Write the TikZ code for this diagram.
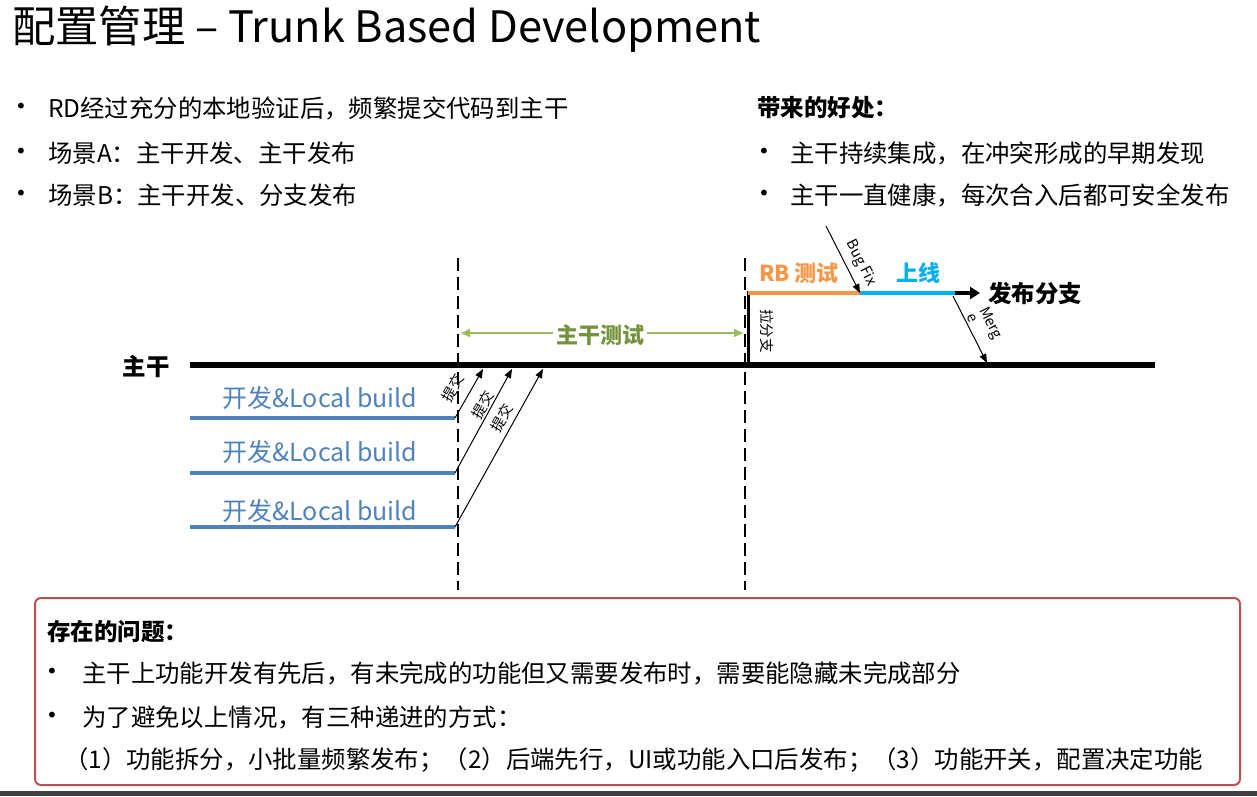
\documentclass[tikz,border=0pt]{standalone}
\usepackage{fontspec}
\setmainfont{Noto Sans CJK SC}
\newfontfamily\dotfont{DejaVu Sans}
\usetikzlibrary{positioning}
\usetikzlibrary{arrows.meta}

\definecolor{devblue}{RGB}{79,129,189}
\definecolor{testgreen}{RGB}{155,187,89}
\definecolor{testgreentxt}{RGB}{118,146,60}
\definecolor{rborange}{RGB}{247,150,70}
\definecolor{liveblue}{RGB}{0,176,240}
\definecolor{boxred}{RGB}{192,80,77}
\definecolor{footgray}{RGB}{64,64,64}

\tikzset{
  body/.style={anchor=west, inner sep=0pt, font=\fontsize{24.4}{28}\selectfont},
  boldbody/.style={body, font=\fontsize{23.5}{28}\selectfont\bfseries},
  dot/.style={anchor=west, inner sep=0pt, font=\dotfont\fontsize{20}{22}\selectfont},
  trunkline/.style={line width=6pt},
  devline/.style={devblue, line width=4pt},
  devlabel/.style={devblue, inner sep=0pt, font=\fontsize{25}{28}\selectfont},
  cutline/.style={line width=2.5pt, dash pattern=on 13pt off 6pt},
  commit/.style={-{Triangle[length=9pt,width=7pt]}, line width=1pt},
  tilted/.style={inner sep=0pt, font=\fontsize{14.5}{15}\selectfont},
}

\begin{document}
\begin{tikzpicture}[x=1pt,y=-1pt]
  \useasboundingbox (0,0) rectangle (1257,796);
  %% title and bullet lists
  \node[body, font=\fontsize{43.3}{48}\selectfont] (title) at (12,29) {配置管理 – Trunk Based Development};
  \node[dot] (b1) at (15,108) {•};
  \node[body] (t1) at (48,108) {RD经过充分的本地验证后，频繁提交代码到主干};
  \node[dot] (b2) at (15,153) {•};
  \node[body] (t2) at (48,153) {场景A：主干开发、主干发布};
  \node[dot] (b3) at (15,195) {•};
  \node[body] (t3) at (48,195) {场景B：主干开发、分支发布};
  \node[boldbody] (gain) at (757,108) {带来的好处：};
  \node[dot] (b4) at (758,153) {•};
  \node[body] (t4) at (790,153) {主干持续集成，在冲突形成的早期发现};
  \node[dot] (b5) at (758,195) {•};
  \node[body] (t5) at (790,195) {主干一直健康，每次合入后都可安全发布};

  %% trunk and the two cut lines
  \coordinate (tl) at (190,365);
  \coordinate (tr) at (1155,365);
  \draw[trunkline] (tl) -- (tr);
  \node[boldbody, anchor=east] (trunk) at (170,367) {主干};
  \coordinate (d1t) at (458,258);
  \coordinate (d1b) at (458,590);
  \coordinate (d2t) at (745,258);
  \coordinate (d2b) at (745,590);
  \draw[cutline] (d1t) -- (d1b);
  \draw[cutline] (d2t) -- (d2b);
  \coordinate (gl) at (461,333);
  \coordinate (gr) at (743,333);
  \draw[testgreen, line width=2pt, {Triangle[length=9pt,width=8pt]}-{Triangle[length=9pt,width=8pt]}] (gl) -- (gr);
  \node[fill=white, inner sep=3pt, text=testgreentxt, font=\fontsize{22}{26}\selectfont\bfseries] (ttest) at (600,335) {主干测试};

  %% release branch
  \coordinate (br0) at (748,368);
  \coordinate (br1) at (748,291);
  \coordinate (bf) at (860,293);
  \coordinate (rel) at (955,293);
  \coordinate (arr) at (980,293);
  \draw[line width=3pt] (br0) -- (br1);
  \draw[rborange, line width=4.5pt] (br1 |- bf) -- (bf);
  \draw[liveblue, line width=4.5pt] (bf) -- (rel);
  \draw[line width=3.5pt, -{Triangle[length=10pt,width=12pt]}] (rel) -- (arr);
  \node[boldbody, right=8pt of arr] (relb) {发布分支};
  \node[text=rborange, inner sep=0pt, font=\fontsize{22}{26}\selectfont\bfseries] (rbt) at (799,273) {RB 测试};
  \node[text=liveblue, inner sep=0pt, font=\fontsize{22}{26}\selectfont\bfseries] (live) at (918,273) {上线};
  \node[tilted, rotate=-90] (pull) at (767,331) {拉分支};
  \coordinate (bfs) at (826,226);
  \draw[commit] (bfs) -- (bf);
  \node[tilted, rotate=-63] (bugfix) at (861,263) {Bug Fix};
  \coordinate (mst) at (953,296);
  \coordinate (mrg) at (987,363);
  \draw[commit] (mst) -- (mrg);
  \node[tilted, rotate=-63, align=left] (merge) at (985,326) {Merg\\e};

  %% local development and commits
  \foreach \i/\y/\ly/\ex/\tx/\ty in {1/418/398/483/453/388, 2/473/452/512/483/405, 3/527/511/543/502/418} {
    \coordinate (dv\i a) at (190,\y);
    \coordinate (dv\i b) at (455,\y);
    \coordinate (cm\i) at (\ex,369);
    \draw[devline] (dv\i a) -- (dv\i b);
    \node[devlabel] (dl\i) at (320,\ly) {开发\&Local build};
    \draw[commit] (dv\i b) -- (cm\i);
    \node[tilted, rotate=60] (ct\i) at (\tx,\ty) {提交};
  }

  %% problems box
  \draw[boxred, line width=2pt, rounded corners=6pt] (35,598) rectangle (1240,785);
  \node[boldbody] (prob) at (47,632) {存在的问题：};
  \node[dot] (b6) at (46,673) {•};
  \node[body] (t6) at (82,673) {主干上功能开发有先后，有未完成的功能但又需要发布时，需要能隐藏未完成部分};
  \node[dot] (b7) at (46,717) {•};
  \node[body] (t7) at (82,717) {为了避免以上情况，有三种递进的方式：};
  \node[body] (t8) at (64,760) {（1）功能拆分，小批量频繁发布；（2）后端先行，UI或功能入口后发布；（3）功能开关，配置决定功能};
  \fill[footgray] (0,791) rectangle (1257,796);
\end{tikzpicture}
\end{document}
